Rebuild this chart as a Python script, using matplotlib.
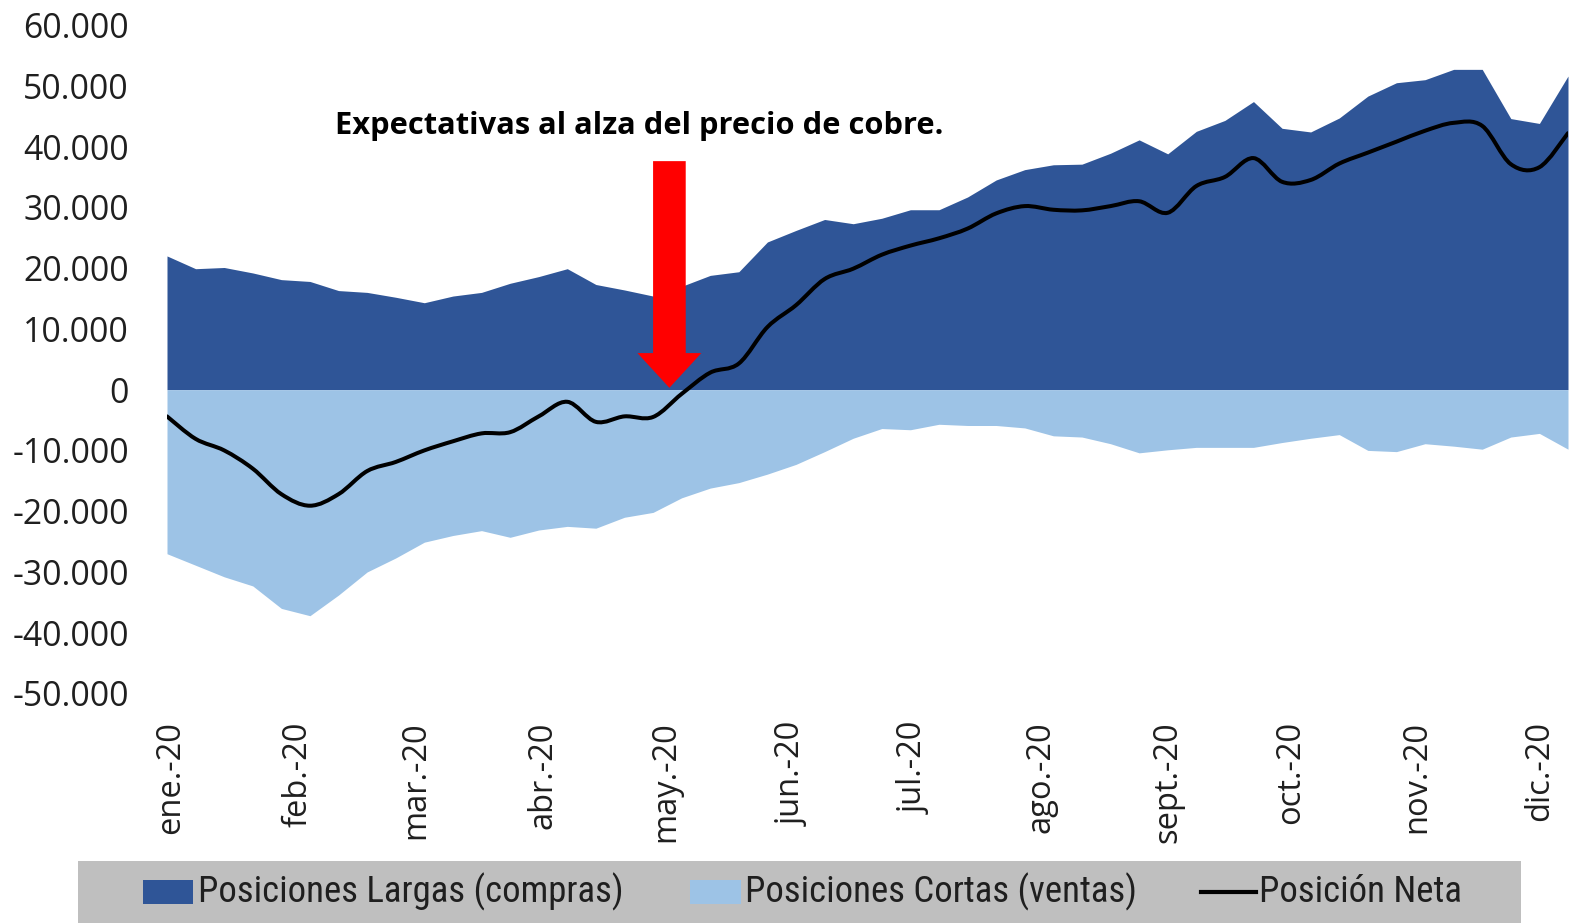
import numpy as np
import pandas as pd
import matplotlib
matplotlib.use("Agg")
import matplotlib.pyplot as plt
import matplotlib.dates as mdates
from matplotlib.path import Path
from matplotlib.patches import PathPatch, Rectangle, ArrowStyle
from matplotlib.lines import Line2D
from matplotlib.ticker import FuncFormatter
from matplotlib import font_manager as fm

# ---------------- data ----------------
fechas = pd.date_range("2019-12-31", periods=50, freq="7D")

largas = [22000, 19900, 20100, 19200, 18100, 17800, 16300, 16000, 15200, 14300,
          15400, 16000, 17500, 18600, 19900, 17300, 16400, 15400, 17000, 18800,
          19400, 24300, 26200, 28000, 27300, 28200, 29600, 29600, 31700, 34500,
          36200, 37000, 37100, 38900, 41100, 38800, 42500, 44300, 47400, 43000,
          42400, 44700, 48300, 50500, 51000, 52700, 52700, 44600, 43800, 51600]

cortas = [-27000, -28900, -30800, -32300, -36000, -37200, -33800, -30000, -27700, -25100,
          -24000, -23200, -24300, -23100, -22500, -22800, -21000, -20200, -17800, -16200,
          -15300, -13900, -12300, -10200, -8000, -6400, -6600, -5700, -5900, -5900,
          -6300, -7600, -7800, -8900, -10400, -9900, -9500, -9500, -9500, -8700,
          -8000, -7400, -10000, -10200, -8900, -9300, -9800, -7800, -7200, -9800]

neta = [-4400, -8100, -10000, -13000, -17200, -19100, -17200, -13400, -11900, -10000,
        -8500, -7200, -7000, -4400, -2000, -5300, -4400, -4500, -700, 2800,
        4300, 10300, 13900, 18200, 19900, 22200, 23700, 24900, 26500, 29000,
        30200, 29600, 29500, 30200, 31000, 29100, 33500, 35000, 38100, 34200,
        34500, 37200, 39000, 40800, 42600, 43900, 43400, 37100, 36600, 42200]

meses = pd.date_range("2020-01-01", periods=12, freq="MS")
etiquetas_meses = ["ene.-20", "feb.-20", "mar.-20", "abr.-20", "may.-20", "jun.-20",
                   "jul.-20", "ago.-20", "sept.-20", "oct.-20", "nov.-20", "dic.-20"]
yticks = list(range(-50000, 60001, 10000))

serie_labels = ["Posiciones Largas (compras)", "Posiciones Cortas (ventas)", "Posición Neta"]
anotacion = "Expectativas al alza del precio de cobre."
fecha_flecha = pd.Timestamp("2020-05-02")

# ---------------- style ----------------
DARK = "#2F5597"
LIGHT = "#9DC3E6"
TXT = "#1f1f1f"
W, H = 1576, 923


def find_font(name, stretch="normal", must_contain=None):
    try:
        path = fm.findfont(fm.FontProperties(family=name, stretch=stretch),
                           fallback_to_default=False)
    except Exception:
        return None
    if must_contain and must_contain.lower() not in path.lower():
        return None
    return path


base_font = "Open Sans" if find_font("Open Sans") else "DejaVu Sans"

# condensed font for the legend, if one is available
legend_prop = None
for fam, st, key in [("Roboto Condensed", "normal", "condensed"),
                     ("Liberation Sans Narrow", "normal", "narrow"),
                     ("Open Sans Condensed", "normal", "condensed"),
                     ("Open Sans", "condensed", "condensed"),
                     ("Noto Sans", "condensed", "condensed"),
                     ("DejaVu Sans", "condensed", "condensed"),
                     ("Roboto", "condensed", "condensed")]:
    p = find_font(fam, st, key)
    if p:
        legend_prop = fm.FontProperties(fname=p)
        break
if legend_prop is None:
    legend_prop = fm.FontProperties(family=base_font)

plt.rcParams["font.family"] = [base_font, "DejaVu Sans"]

fig = plt.figure(figsize=(W / 100, H / 100), dpi=100)
fig.patch.set_facecolor("white")

# plot area in pixels
x0, x1, ytop, ybot = 167, 1568, 25, 693.5
ax = fig.add_axes([x0 / W, 1 - ybot / H, (x1 - x0) / W, (ybot - ytop) / H])
ax.set_facecolor("white")

xn = mdates.date2num(fechas)
ax.fill_between(xn, 0, largas, color=DARK, lw=0, zorder=1)
ax.fill_between(xn, cortas, 0, color=LIGHT, lw=0, zorder=1)

# smoothed net line (Catmull-Rom -> cubic Bezier)
yn = np.asarray(neta, dtype=float)
n = len(xn)
verts = [(xn[0], yn[0])]
codes = [Path.MOVETO]
for i in range(n - 1):
    p0 = np.array([xn[max(i - 1, 0)], yn[max(i - 1, 0)]])
    p1 = np.array([xn[i], yn[i]])
    p2 = np.array([xn[i + 1], yn[i + 1]])
    p3 = np.array([xn[min(i + 2, n - 1)], yn[min(i + 2, n - 1)]])
    c1 = p1 + (p2 - p0) / 6.0
    c2 = p2 - (p3 - p1) / 6.0
    verts += [tuple(c1), tuple(c2), tuple(p2)]
    codes += [Path.CURVE4] * 3
ax.add_patch(PathPatch(Path(verts, codes), fill=False, ec="black", lw=2.9,
                       capstyle="round", joinstyle="round", zorder=3))

ax.set_xlim(xn[0], xn[-1])
ax.set_ylim(-50000, 60000)
for s in ax.spines.values():
    s.set_visible(False)

ax.set_yticks(yticks)
ax.yaxis.set_major_formatter(FuncFormatter(lambda v, p: f"{int(round(v)):,}".replace(",", ".")))
ax.set_xticks(mdates.date2num(meses))
ax.set_xticklabels(etiquetas_meses, rotation=90, ha="center", va="top")
ax.tick_params(axis="y", length=0, pad=27.5, labelsize=24.3, labelcolor=TXT)
ax.tick_params(axis="x", length=0, pad=20, labelsize=23.5, labelcolor=TXT)

# arrow annotation
xa = mdates.date2num(fecha_flecha)
ax.annotate("", xy=(xa, 300), xytext=(xa, 37600),
            arrowprops=dict(arrowstyle=ArrowStyle.Simple(head_length=25, head_width=46, tail_width=23.5),
                            mutation_scale=1, fc="#FF0000", ec="none", lw=0,
                            shrinkA=0, shrinkB=0), zorder=4)

fig.canvas.draw()
renderer = fig.canvas.get_renderer()


def fit_size(txt, target_w, **kw):
    t = fig.text(0, 0, txt, fontsize=20, **kw)
    w = t.get_window_extent(renderer).width
    t.remove()
    return 20 * target_w / w


# annotation text
sz = fit_size(anotacion, 610, family=[base_font, "DejaVu Sans"], fontweight="bold")
fig.text(639 / W, 1 - 126 / H, anotacion, fontsize=sz, fontweight="bold",
         family=[base_font, "DejaVu Sans"], ha="center", va="center", color="black")

# legend (manual)
fig.patches.append(Rectangle((78 / W, 0), (1521 - 78) / W, (H - 861) / H,
                             transform=fig.transFigure, fc="#BFBFBF", ec="none", zorder=0))
yc = 1 - 892 / H
fig.patches.append(Rectangle((143 / W, 1 - 904 / H), 50 / W, 24 / H,
                             transform=fig.transFigure, fc=DARK, ec="none", zorder=1))
fig.patches.append(Rectangle((690 / W, 1 - 904 / H), 51 / W, 24 / H,
                             transform=fig.transFigure, fc=LIGHT, ec="none", zorder=1))
fig.lines.append(Line2D([1201 / W, 1256 / W], [yc, yc], transform=fig.transFigure,
                        color="black", lw=3, zorder=1))
lsz = fit_size(serie_labels[0], 425, fontproperties=legend_prop)
lsz = min(lsz, 30)
for xl, lab in zip([198, 745, 1259], serie_labels):
    t = fig.text(xl / W, yc, lab, fontproperties=legend_prop,
                 ha="left", va="center", color=TXT)
    t.set_fontsize(lsz)

fig.savefig("out.png", dpi=100, facecolor="white")
